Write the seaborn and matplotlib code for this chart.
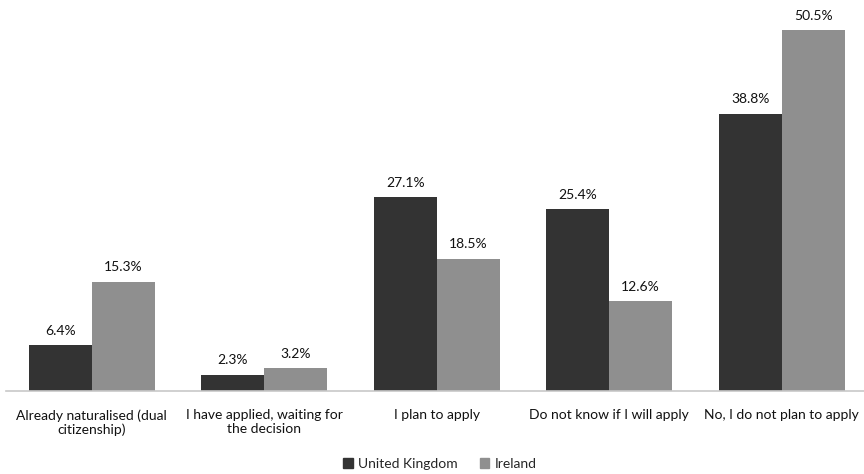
import matplotlib
matplotlib.use("Agg")
import matplotlib.pyplot as plt
import seaborn as sns
import pandas as pd
from matplotlib.patches import Patch

categories = ["Already naturalised (dual\ncitizenship)",
              "I have applied, waiting for\nthe decision",
              "I plan to apply",
              "Do not know if I will apply",
              "No, I do not plan to apply"]
uk_values = [6.4, 2.3, 27.1, 25.4, 38.8]
ie_values = [15.3, 3.2, 18.5, 12.6, 50.5]
series = ["United Kingdom", "Ireland"]
colors = ["#333333", "#8f8f8f"]

df = pd.DataFrame({
    "category": categories * 2,
    "value": uk_values + ie_values,
    "country": [series[0]] * len(categories) + [series[1]] * len(categories),
})

sns.set_style("white")
plt.rcParams["font.family"] = ["Lato", "DejaVu Sans"]

fig = plt.figure(figsize=(8.64, 4.74), dpi=100)
ax = fig.add_axes([5.5 / 864, 83 / 474, 862.5 / 864, 391 / 474])

sns.barplot(data=df, x="category", y="value", hue="country", order=categories,
            hue_order=series, palette=colors, width=0.73, ax=ax,
            saturation=1, legend=False, errorbar=None, linewidth=0)

for cont in ax.containers:
    ax.bar_label(cont, labels=[f"{v:.1f}%" for v in cont.datavalues],
                 padding=6, fontsize=10, color="#111111")

ax.set_ylim(0, 391 / 7.15)
ax.set_xlim(-0.5, len(categories) - 0.5)
ax.set_xlabel("")
ax.set_ylabel("")
ax.set_yticks([])
ax.tick_params(axis="x", length=0, labelsize=10, labelcolor="#111111", pad=13)
for s in ["top", "left", "right"]:
    ax.spines[s].set_visible(False)
ax.spines["bottom"].set_color("#c8c8c8")
ax.spines["bottom"].set_linewidth(1.2)

handles = [Patch(color=c, label=s) for c, s in zip(colors, series)]
fig.legend(handles=handles, loc="center", bbox_to_anchor=(440 / 864, 1 - 464 / 474),
           ncol=2, frameon=False, fontsize=10, handlelength=0.65, handleheight=0.65,
           handletextpad=0.4, columnspacing=1.6)

fig.savefig("out.png", dpi=100)
